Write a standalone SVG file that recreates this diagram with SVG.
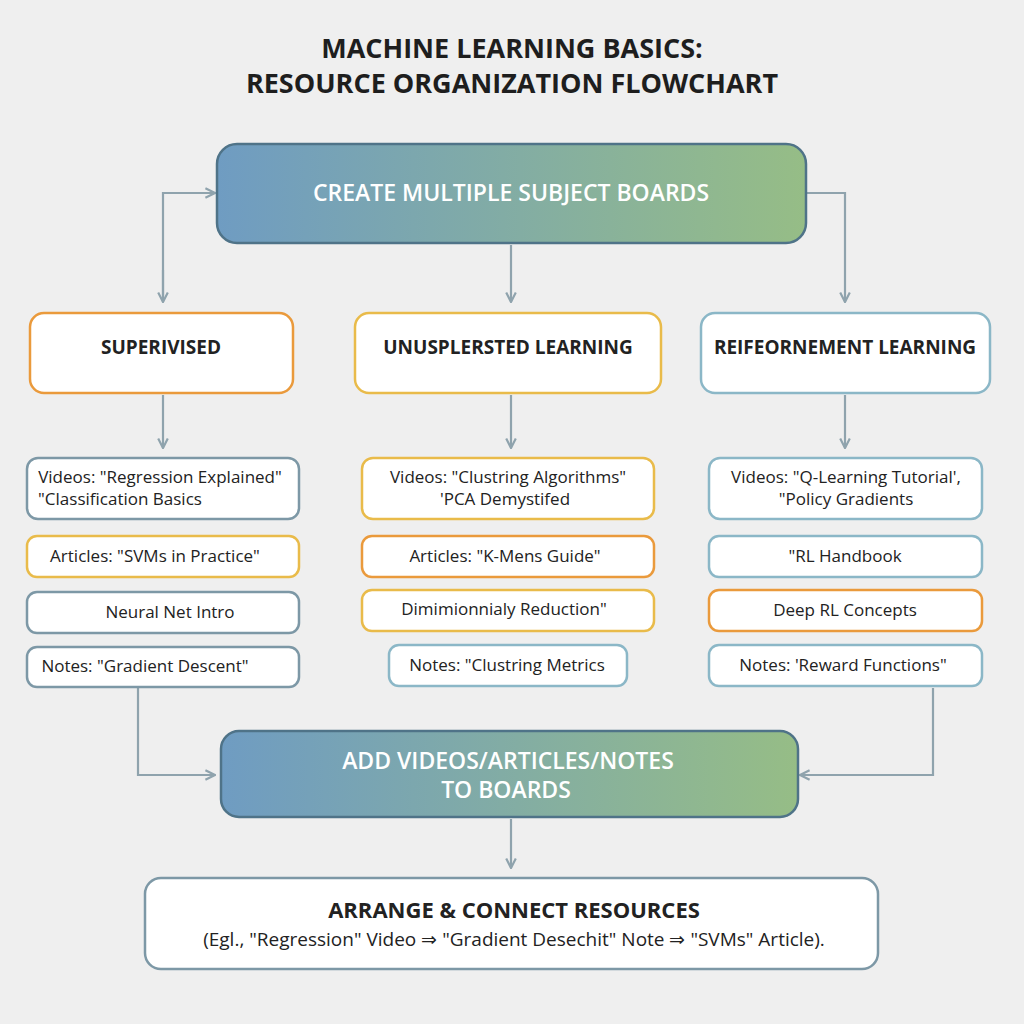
<svg xmlns="http://www.w3.org/2000/svg" width="1024" height="1024" viewBox="0 0 1024 1024">
<defs>
<linearGradient id="g" x1="0" y1="0" x2="1" y2="0"><stop offset="0" stop-color="#6f9cc2"/><stop offset="1" stop-color="#96bd86"/></linearGradient>
<marker id="a" viewBox="0 0 10 10" refX="9" refY="5" markerWidth="12" markerHeight="12" markerUnits="userSpaceOnUse" orient="auto"><path d="M1,1 L9,5 L1,9" fill="none" stroke="#8fa3ad" stroke-width="1.8"/></marker>
</defs>
<style>
text{font-family:"Open Sans","Liberation Sans",sans-serif;text-anchor:middle;fill:#222}
.t{font-size:27px;font-weight:700;fill:#1e1e1e}
.h{font-size:23px;font-weight:600;fill:#fff}
.c{font-size:19px;font-weight:700}
.i{font-size:17px}
.box{fill:#fff;stroke-width:2.5}
.gr{stroke:#7d98a6}.ye{stroke:#e9bb4a}.or{stroke:#ea9a3c}.lb{stroke:#8bb7c7}
.con{fill:none;stroke:#8fa3ad;stroke-width:2.2;marker-end:url(#a)}
</style>
<rect width="1024" height="1024" fill="#efefef"/>
<g id="title"><text class="t" x="512" y="58">MACHINE LEARNING BASICS:</text><text class="t" x="512" y="93">RESOURCE ORGANIZATION FLOWCHART</text></g>
<g id="connectors">
<path class="con" d="M163,300 L163,193 L215,193"/>
<path class="con" d="M163,270 L163,302"/>
<path class="con" d="M511,245 L511,302"/>
<path class="con" d="M806,193 L845,193 L845,302"/>
<path class="con" d="M163,395 L163,448"/>
<path class="con" d="M511,395 L511,448"/>
<path class="con" d="M845,395 L845,448"/>
<path class="con" d="M138,688 L138,775 L215,775"/>
<path class="con" d="M933,688 L933,775 L800,775"/>
<path class="con" d="M511,819 L511,868"/>
</g>
<g id="create"><rect x="217" y="144" width="589" height="99" rx="20" fill="url(#g)" stroke="#4f7388" stroke-width="2.5"/><text class="h" x="511" y="201">CREATE MULTIPLE SUBJECT BOARDS</text></g>
<g id="sup"><rect class="box or" x="30" y="313" width="263" height="80" rx="14"/><text class="c" x="161" y="354">SUPERIVISED</text></g>
<g id="uns"><rect class="box ye" x="355" y="313" width="306" height="80" rx="14"/><text class="c" x="508" y="354">UNUSPLERSTED LEARNING</text></g>
<g id="rei"><rect class="box lb" x="701" y="313" width="289" height="80" rx="14"/><text class="c" x="845" y="354">REIFEORNEMENT LEARNING</text></g>
<g id="l1"><rect class="box gr" x="27" y="458" width="272" height="61" rx="11"/><text class="i" x="160" y="483">Videos: "Regression Explained"</text><text class="i" x="120" y="505">"Classification Basics</text></g>
<g id="l2"><rect class="box ye" x="27" y="536" width="272" height="41" rx="10"/><text class="i" x="155" y="562">Articles:  "SVMs in Practice"</text></g>
<g id="l3"><rect class="box gr" x="27" y="592" width="272" height="41" rx="10"/><text class="i" x="170" y="618">Neural Net Intro</text></g>
<g id="l4"><rect class="box gr" x="27" y="647" width="272" height="40" rx="10"/><text class="i" x="145" y="672">Notes: "Gradient Descent"</text></g>
<g id="m1"><rect class="box ye" x="362" y="458" width="292" height="61" rx="11"/><text class="i" x="508" y="483">Videos: "Clustring Algorithms"</text><text class="i" x="505" y="505">'PCA Demystifed</text></g>
<g id="m2"><rect class="box or" x="362" y="536" width="292" height="41" rx="10"/><text class="i" x="505" y="562">Articles: "K-Mens Guide"</text></g>
<g id="m3"><rect class="box ye" x="362" y="590" width="292" height="41" rx="10"/><text class="i" x="504" y="615">Dimimionnialy Reduction"</text></g>
<g id="m4"><rect class="box lb" x="389" y="645" width="238" height="41" rx="10"/><text class="i" x="507" y="671">Notes: "Clustring Metrics</text></g>
<g id="r1"><rect class="box lb" x="709" y="458" width="273" height="61" rx="11"/><text class="i" x="846" y="483">Videos: "Q-Learning Tutorial',</text><text class="i" x="846" y="505">"Policy Gradients</text></g>
<g id="r2"><rect class="box lb" x="709" y="536" width="273" height="41" rx="10"/><text class="i" x="845" y="562">"RL Handbook</text></g>
<g id="r3"><rect class="box or" x="709" y="590" width="273" height="41" rx="10"/><text class="i" x="845" y="616">Deep RL Concepts</text></g>
<g id="r4"><rect class="box lb" x="709" y="645" width="273" height="41" rx="10"/><text class="i" x="843" y="671">Notes: 'Reward Functions"</text></g>
<g id="add"><rect x="221" y="731" width="577" height="86" rx="18" fill="url(#g)" stroke="#4f7388" stroke-width="2.5"/><text class="h" x="508" y="769">ADD VIDEOS/ARTICLES/NOTES</text><text class="h" x="506" y="798">TO BOARDS</text></g>
<g id="arrange"><rect class="box gr" x="145" y="878" width="733" height="91" rx="16"/><text x="514" y="918" style="font-size:22px;font-weight:700">ARRANGE &amp; CONNECT RESOURCES</text><text x="514" y="946" style="font-size:19px">(Egl., "Regression" Video ⇒ "Gradient Desechit" Note ⇒ "SVMs" Article).</text></g>
</svg>
